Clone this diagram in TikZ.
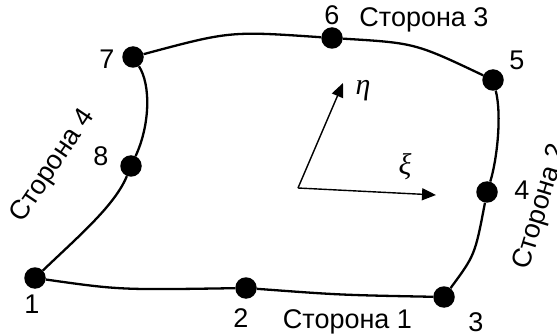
\documentclass[tikz,border=0pt]{standalone}
\usepackage{fontspec}
\setmainfont{Liberation Sans}
\newfontfamily\fgreek{Liberation Serif}
\usetikzlibrary{arrows.meta}
\providecommand{\flabel}{\fontsize{27}{30}\selectfont}
\tikzset{
  dot/.style={circle,fill=black,draw=none,minimum size=21.5pt,inner sep=0pt},
  side/.style={line width=2.3pt},
  axis/.style={line width=1.4pt,-{Triangle[length=14pt,width=12pt]}},
  lab/.style={inner sep=0pt,font=\flabel},
}
\begin{document}
\begin{tikzpicture}[x=1pt,y=1pt,line width=0.4pt]
\useasboundingbox (0,0) rectangle (557,335);
% corner and mid-side points
\node[dot] (n1) at (35,57) {};
\node[dot] (n2) at (246,47) {};
\node[dot] (n3) at (444,38) {};
\node[dot] (n4) at (487,143) {};
\node[dot] (n5) at (493,255) {};
\node[dot] (n6) at (332,297) {};
\node[dot] (n7) at (133,278) {};
\node[dot] (n8) at (131,169) {};
% sides
\draw[side] (n1) .. controls (120,45) .. (n2);
\draw[side] (n2) .. controls (340,40) .. (n3);
\draw[side] (n3) .. controls (475,80) .. (n4);
\draw[side] (n4) .. controls (497,175) and (502,220) .. (n5);
\draw[side] (n5) .. controls (415,292) .. (n6);
\draw[side] (n6) .. controls (230,304) .. (n7);
\draw[side] (n7) .. controls (151,250) and (150,210) .. (n8);
\draw[side] (n8) .. controls (115,130) and (80,100) .. (n1);
% local axes
\coordinate (org) at (298,147);
\coordinate (etatip) at (343,252);
\coordinate (xitip) at (436,140);
\draw[axis] (org) -- (etatip);
\draw[axis] (org) -- (xitip);
\node[inner sep=0pt,font=\fontsize{30}{32}\fgreek\itshape] (eta) at (363,244) {η};
\node[inner sep=0pt,font=\fontsize{30}{32}\fgreek\itshape] (xi) at (405,168) {ξ};
% point numbers
\node[lab] (l1) at (32,31) {1};
\node[lab] (l2) at (241,17) {2};
\node[lab] (l3) at (476,12.5) {3};
\node[lab] (l4) at (522,145) {4};
\node[lab] (l5) at (517,275) {5};
\node[lab] (l6) at (332,320) {6};
\node[lab] (l7) at (107,276) {7};
\node[lab] (l8) at (101,179) {8};
% side names
\node[lab] (s1) at (347.5,13) {Сторона 1};
\node[lab] (s2) at (541,128) [rotate=73] {Сторона 2};
\node[lab] (s3) at (424,315) {Сторона 3};
\node[lab] (s4) at (53,169) [rotate=56] {Сторона 4};
\end{tikzpicture}
\end{document}
